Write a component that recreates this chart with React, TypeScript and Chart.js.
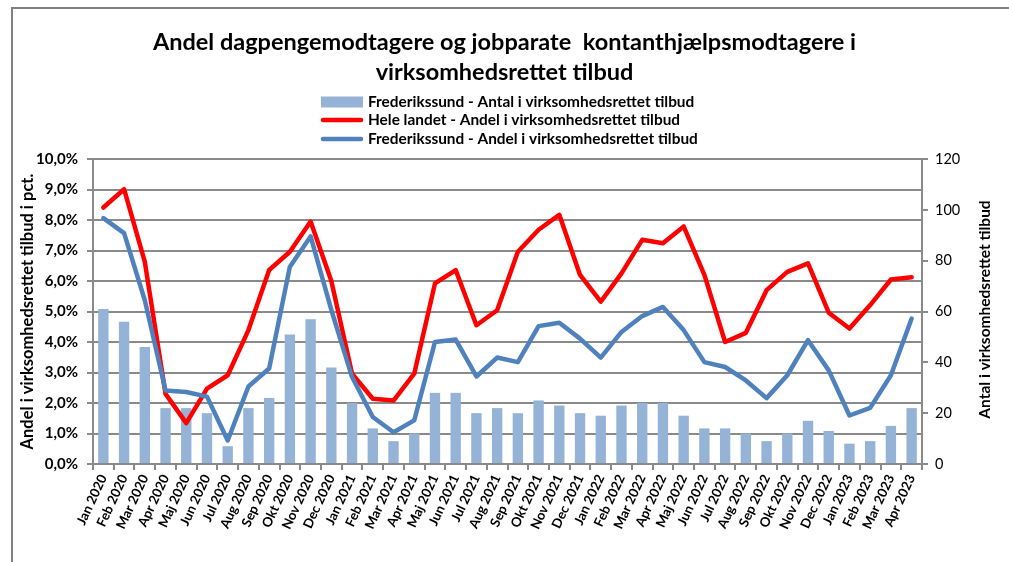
import React, { useEffect, useRef } from 'react';
import { Chart, registerables } from 'chart.js';

Chart.register(...registerables);

const months: string[] = [
  'Jan 2020', 'Feb 2020', 'Mar 2020', 'Apr 2020', 'Maj 2020', 'Jun 2020', 'Jul 2020', 'Aug 2020', 'Sep 2020', 'Okt 2020', 'Nov 2020', 'Dec 2020',
  'Jan 2021', 'Feb 2021', 'Mar 2021', 'Apr 2021', 'Maj 2021', 'Jun 2021', 'Jul 2021', 'Aug 2021', 'Sep 2021', 'Okt 2021', 'Nov 2021', 'Dec 2021',
  'Jan 2022', 'Feb 2022', 'Mar 2022', 'Apr 2022', 'Maj 2022', 'Jun 2022', 'Jul 2022', 'Aug 2022', 'Sep 2022', 'Okt 2022', 'Nov 2022', 'Dec 2022',
  'Jan 2023', 'Feb 2023', 'Mar 2023', 'Apr 2023',
];

// Frederikssund - Antal i virksomhedsrettet tilbud (right axis)
const antalFrederikssund: number[] = [
  61, 56, 46, 22, 22, 20, 7, 22, 26, 51, 57, 38,
  24, 14, 9, 12, 28, 28, 20, 22, 20, 25, 23, 20,
  19, 23, 24, 24, 19, 14, 14, 12, 9, 12, 17, 13,
  8, 9, 15, 22,
];

// Hele landet - Andel i virksomhedsrettet tilbud (pct.)
const andelHeleLandet: number[] = [
  8.41, 9.01, 6.63, 2.30, 1.34, 2.47, 2.91, 4.39, 6.36, 6.96, 7.95, 6.0,
  2.96, 2.14, 2.08, 2.96, 5.92, 6.36, 4.55, 5.04, 6.96, 7.68, 8.17, 6.2,
  5.32, 6.25, 7.35, 7.24, 7.79, 6.2, 4.0, 4.3, 5.7, 6.3, 6.58, 4.96,
  4.44, 5.21, 6.05, 6.12,
];

// Frederikssund - Andel i virksomhedsrettet tilbud (pct.)
const andelFrederikssund: number[] = [
  8.06, 7.57, 5.37, 2.41, 2.36, 2.21, 0.77, 2.54, 3.13, 6.47, 7.46, 5.05,
  2.85, 1.54, 1.04, 1.43, 4.0, 4.08, 2.87, 3.49, 3.34, 4.52, 4.63, 4.11,
  3.49, 4.33, 4.85, 5.15, 4.39, 3.34, 3.18, 2.74, 2.16, 2.91, 4.06, 3.07,
  1.59, 1.84, 2.91, 4.77,
];

const titleLines: string[] = [
  'Andel dagpengemodtagere og jobparate  kontanthjælpsmodtagere i',
  'virksomhedsrettet tilbud',
];
const seriesNames: string[] = [
  'Frederikssund - Antal i virksomhedsrettet tilbud',
  'Hele landet - Andel i virksomhedsrettet tilbud',
  'Frederikssund - Andel i virksomhedsrettet tilbud',
];
const leftAxisTitle = 'Andel i virksomhedsrettet tilbud i pct.';
const rightAxisTitle = 'Antal i virksomhedsrettet tilbud';

const FONT = 'Lato, "Open Sans", "DejaVu Sans", sans-serif';
const BAR_COLOR = '#95B3D7';
const RED = '#FF0000';
const BLUE = '#4F81BD';
const GRID = '#8a8a8a';

const W = 1009;
const H = 562;
const PLOT_LEFT = 93;
const PLOT_RIGHT = 922;
const PLOT_BOTTOM = 464;
const PAD_L = 12;
const PAD_R = 12;

const legendPlugin = {
  id: 'customLegendAndFrame',
  afterDraw(chart: any) {
    const ctx = chart.ctx as CanvasRenderingContext2D;
    ctx.save();
    // outer frame (top and left)
    ctx.strokeStyle = '#808080';
    ctx.lineWidth = 2;
    ctx.beginPath();
    ctx.moveTo(12, H + 2);
    ctx.lineTo(12, 8);
    ctx.lineTo(W + 2, 8);
    ctx.stroke();

    // right axis title, reading bottom to top
    const area = chart.chartArea;
    ctx.save();
    ctx.translate(985, (area.top + area.bottom) / 2 - 2);
    ctx.rotate(-Math.PI / 2);
    ctx.font = `bold 15.5px ${FONT}`;
    ctx.fillStyle = '#000';
    ctx.textAlign = 'center';
    ctx.textBaseline = 'middle';
    ctx.fillText(rightAxisTitle, 0, 0);
    ctx.restore();

    // legend
    const rowsY = [102, 120, 139];
    const x0 = 321;
    const x1 = 363;
    ctx.font = `bold 15.4px ${FONT}`;
    ctx.textBaseline = 'middle';
    ctx.textAlign = 'left';
    chart.data.datasets.forEach((ds: any, i: number) => {
      const y = rowsY[i];
      if (ds.type === 'bar') {
        ctx.fillStyle = ds.backgroundColor;
        ctx.fillRect(x0, y - 5.5, x1 - x0, 11);
      } else {
        ctx.strokeStyle = ds.borderColor;
        ctx.lineWidth = 4.5;
        ctx.lineCap = 'round';
        ctx.beginPath();
        ctx.moveTo(x0 + 2, y);
        ctx.lineTo(x1 - 2, y);
        ctx.stroke();
      }
      ctx.fillStyle = '#000';
      ctx.fillText(ds.label, x1 + 5, y + 0.5);
    });
    ctx.restore();
  },
};

export default function App() {
  const ref = useRef<HTMLCanvasElement | null>(null);

  useEffect(() => {
    if (!ref.current) return;
    Chart.defaults.color = '#000';
    Chart.defaults.font.family = FONT;
    const chart = new Chart(ref.current, {
      type: 'bar',
      data: {
        labels: months,
        datasets: [
          {
            type: 'bar',
            label: seriesNames[0],
            data: antalFrederikssund,
            backgroundColor: BAR_COLOR,
            yAxisID: 'y1',
            barPercentage: 0.5,
            categoryPercentage: 1,
            order: 3,
          },
          {
            type: 'line',
            label: seriesNames[1],
            data: andelHeleLandet,
            borderColor: RED,
            backgroundColor: RED,
            borderWidth: 4.5,
            pointRadius: 0,
            tension: 0,
            borderJoinStyle: 'round',
            borderCapStyle: 'round',
            yAxisID: 'y',
            order: 2,
          },
          {
            type: 'line',
            label: seriesNames[2],
            data: andelFrederikssund,
            borderColor: BLUE,
            backgroundColor: BLUE,
            borderWidth: 4.5,
            pointRadius: 0,
            tension: 0,
            borderJoinStyle: 'round',
            borderCapStyle: 'round',
            yAxisID: 'y',
            order: 1,
          },
        ] as any,
      },
      options: {
        responsive: false,
        animation: false,
        layout: { padding: { left: PAD_L, right: PAD_R, top: 0, bottom: 0 } },
        plugins: {
          legend: { display: false },
          tooltip: { enabled: false },
          title: {
            display: true,
            text: titleLines,
            color: '#000',
            font: { family: FONT, size: 23.5, weight: 'bold', lineHeight: 1.3 },
            padding: { top: 27, bottom: 70.9 },
          },
        },
        scales: {
          x: {
            offset: true,
            grid: {
              offset: true,
              drawOnChartArea: false,
              drawTicks: true,
              tickLength: 6,
              color: GRID,
              lineWidth: 2,
            },
            border: { display: true, color: GRID, width: 2 },
            ticks: {
              autoSkip: false,
              maxRotation: 65,
              minRotation: 65,
              padding: 2,
              font: { family: FONT, size: 13.3, weight: 'bold' },
              color: '#000',
            },
            afterFit: (s: any) => {
              s.height = H - PLOT_BOTTOM;
            },
          },
          y: {
            position: 'left',
            min: 0,
            max: 10,
            ticks: {
              stepSize: 1,
              padding: 9,
              font: { family: FONT, size: 15, weight: 'bold' },
              color: '#000',
              callback: (v: any) => Number(v).toFixed(1).replace('.', ',') + '%',
            },
            grid: {
              color: GRID,
              lineWidth: 2,
              drawTicks: true,
              tickLength: 6,
            },
            border: { display: true, color: GRID, width: 2 },
            title: {
              display: true,
              text: leftAxisTitle,
              color: '#000',
              font: { family: FONT, size: 16.5, weight: 'bold' },
              padding: { top: 6, bottom: 0 },
            },
            afterFit: (s: any) => {
              s.width = PLOT_LEFT - PAD_L;
            },
          },
          y1: {
            position: 'right',
            min: 0,
            max: 120,
            ticks: {
              stepSize: 20,
              padding: 7,
              font: { family: FONT, size: 14.5 },
              color: '#000',
            },
            grid: {
              drawOnChartArea: false,
              drawTicks: true,
              tickLength: 6,
              color: GRID,
              lineWidth: 2,
            },
            border: { display: true, color: GRID, width: 2 },
            title: { display: false },
            afterFit: (s: any) => {
              s.width = W - PAD_R - PLOT_RIGHT;
            },
          },
        },
      } as any,
      plugins: [legendPlugin],
    });
    return () => chart.destroy();
  }, []);

  return (
    <div style={{ position: 'absolute', left: 0, top: 0, width: W, height: H, background: '#fff' }}>
      <canvas ref={ref} width={W} height={H} style={{ display: 'block' }} />
    </div>
  );
}
